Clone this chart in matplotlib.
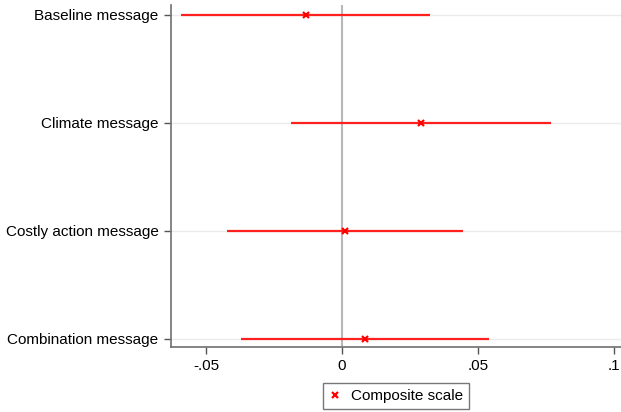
import numpy as np
import matplotlib
matplotlib.use('Agg')
import matplotlib.pyplot as plt

plt.rcParams['font.family'] = ['Liberation Sans', 'DejaVu Sans']

messages = ['Baseline message', 'Climate message', 'Costly action message', 'Combination message']
coef = [-0.0134, 0.0290, 0.0010, 0.0085]
ci_low = [-0.0592, -0.0188, -0.0424, -0.0370]
ci_high = [0.0324, 0.0768, 0.0445, 0.0540]

xticks = [-0.05, 0, 0.05, 0.1]
xtick_labels = ['-.05', '0', '.05', '.1']

ypos = np.arange(len(messages), 0, -1)

fig = plt.figure(figsize=(6.21, 4.12), dpi=100)
ax = fig.add_axes([0.2754, 0.158, 0.7246, 0.830])

for y in ypos:
    ax.axhline(y, color='#ebebeb', lw=1, zorder=0)
ax.axvline(0, color='#b8b8b8', lw=1.5, zorder=1)

ax.hlines(ypos, ci_low, ci_high, color='#ff2020', lw=1.6, zorder=2)
ax.plot(coef, ypos, 'x', color='#ff0000', ms=5, mew=1.6, zorder=3,
        label='Composite scale')

ax.set_xlim(-0.0629, 0.1026)
ax.set_ylim(0.926, 4.093)
ax.set_yticks(ypos)
ax.set_yticklabels(messages, fontsize=11)
ax.set_xticks(xticks)
ax.set_xticklabels(xtick_labels, fontsize=11)
ax.tick_params(axis='both', length=5, width=1, color='#555555', pad=4)

for s in ['top', 'right']:
    ax.spines[s].set_visible(False)
for s in ['left', 'bottom']:
    ax.spines[s].set_color('#707070')
    ax.spines[s].set_linewidth(1.2)

leg = ax.legend(loc='upper center', bbox_to_anchor=(0.5, -0.105), frameon=True,
                fancybox=False, edgecolor='#555555', fontsize=11,
                handlelength=0.8, handletextpad=0.6, borderpad=0.4,
                borderaxespad=0, markerscale=0.8)
leg.get_frame().set_linewidth(1)

fig.savefig('out.png', dpi=100)
